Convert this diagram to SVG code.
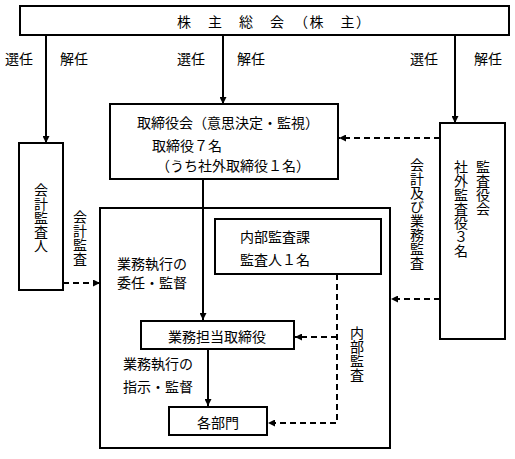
<svg xmlns="http://www.w3.org/2000/svg" width="515" height="459" viewBox="0 0 515 459">
<defs>
<marker id="ah" viewBox="0 0 8 8" refX="8" refY="4" markerWidth="7" markerHeight="7" markerUnits="userSpaceOnUse" orient="auto">
<path d="M0,0 L8,4 L0,8 z" fill="#000"/>
</marker>
<style>
text{font-family:"Noto Sans CJK JP","Noto Sans CJK SC",sans-serif;font-size:14px;fill:#000;dominant-baseline:central}
.box{fill:#fff;stroke:#000;stroke-width:2}
.frame{fill:none;stroke:#000;stroke-width:2}
.ln{fill:none;stroke:#000;stroke-width:2}
.dash{fill:none;stroke:#000;stroke-width:2;stroke-dasharray:6 4}
.v{writing-mode:vertical-rl;text-orientation:upright}
</style>
</defs>
<rect width="515" height="459" fill="#fff"/>
<g id="execution-area">
<rect class="frame" x="100" y="208" width="290" height="240"/>
</g>
<g id="shareholders">
<rect class="box" x="20" y="6" width="489" height="29"/>
<text x="177" y="21" style="letter-spacing:1.5px">株　主　総　会　（株　主）</text>
</g>
<g id="board">
<rect class="box" x="110" y="104" width="228" height="75"/>
<text x="137" y="122">取締役会（意思決定・監視）</text>
<text x="152" y="145">取締役７名</text>
<text x="156" y="165">（うち社外取締役１名）</text>
</g>
<g id="accounting-auditor">
<rect class="box" x="19" y="143" width="44" height="147"/>
<text class="v" x="41" y="183">会計監査人</text>
</g>
<g id="internal-audit">
<rect class="box" x="215" y="219" width="166" height="55"/>
<text x="240" y="236">内部監査課</text>
<text x="240" y="259">監査人１名</text>
</g>
<g id="executive-director">
<rect class="box" x="141" y="321" width="153" height="28"/>
<text x="217" y="336" text-anchor="middle">業務担当取締役</text>
</g>
<g id="departments">
<rect class="box" x="169" y="407" width="98" height="28"/>
<text x="218" y="422" text-anchor="middle">各部門</text>
</g>
<g id="audit-board">
<rect class="box" x="440" y="123" width="65" height="216"/>
<text class="v" x="483" y="160">監査役会</text>
<text class="v" x="461" y="160">社外監査役３名</text>
</g>
<g id="connectors">
<line class="ln" x1="46" y1="35" x2="46" y2="143" marker-end="url(#ah)"/>
<line class="ln" x1="223" y1="35" x2="223" y2="104" marker-end="url(#ah)"/>
<line class="ln" x1="455" y1="35" x2="455" y2="123" marker-end="url(#ah)"/>
<line class="ln" x1="203" y1="179" x2="203" y2="320" marker-end="url(#ah)"/>
<line class="ln" x1="208" y1="349" x2="208" y2="406" marker-end="url(#ah)"/>
<line class="dash" x1="63" y1="283" x2="100" y2="283" marker-end="url(#ah)"/>
<line class="dash" x1="440" y1="138" x2="339" y2="138" marker-end="url(#ah)"/>
<line class="dash" x1="440" y1="299" x2="391" y2="299" marker-end="url(#ah)"/>
<polyline class="dash" points="337,274 337,423 268,423" marker-end="url(#ah)"/>
<line class="dash" x1="337" y1="337" x2="295" y2="337" marker-end="url(#ah)"/>
</g>
<g id="labels">
<text x="5" y="58">選任</text>
<text x="60" y="58">解任</text>
<text x="177" y="58">選任</text>
<text x="237" y="58">解任</text>
<text x="410" y="58">選任</text>
<text x="474" y="58">解任</text>
<text class="v" x="80" y="210">会計監査</text>
<text class="v" x="417" y="158">会計及び業務監査</text>
<text class="v" x="357" y="326">内部監査</text>
<text x="117" y="263">業務執行の</text>
<text x="117" y="282">委任・監督</text>
<text x="123" y="363">業務執行の</text>
<text x="123" y="386">指示・監督</text>
</g>
</svg>
